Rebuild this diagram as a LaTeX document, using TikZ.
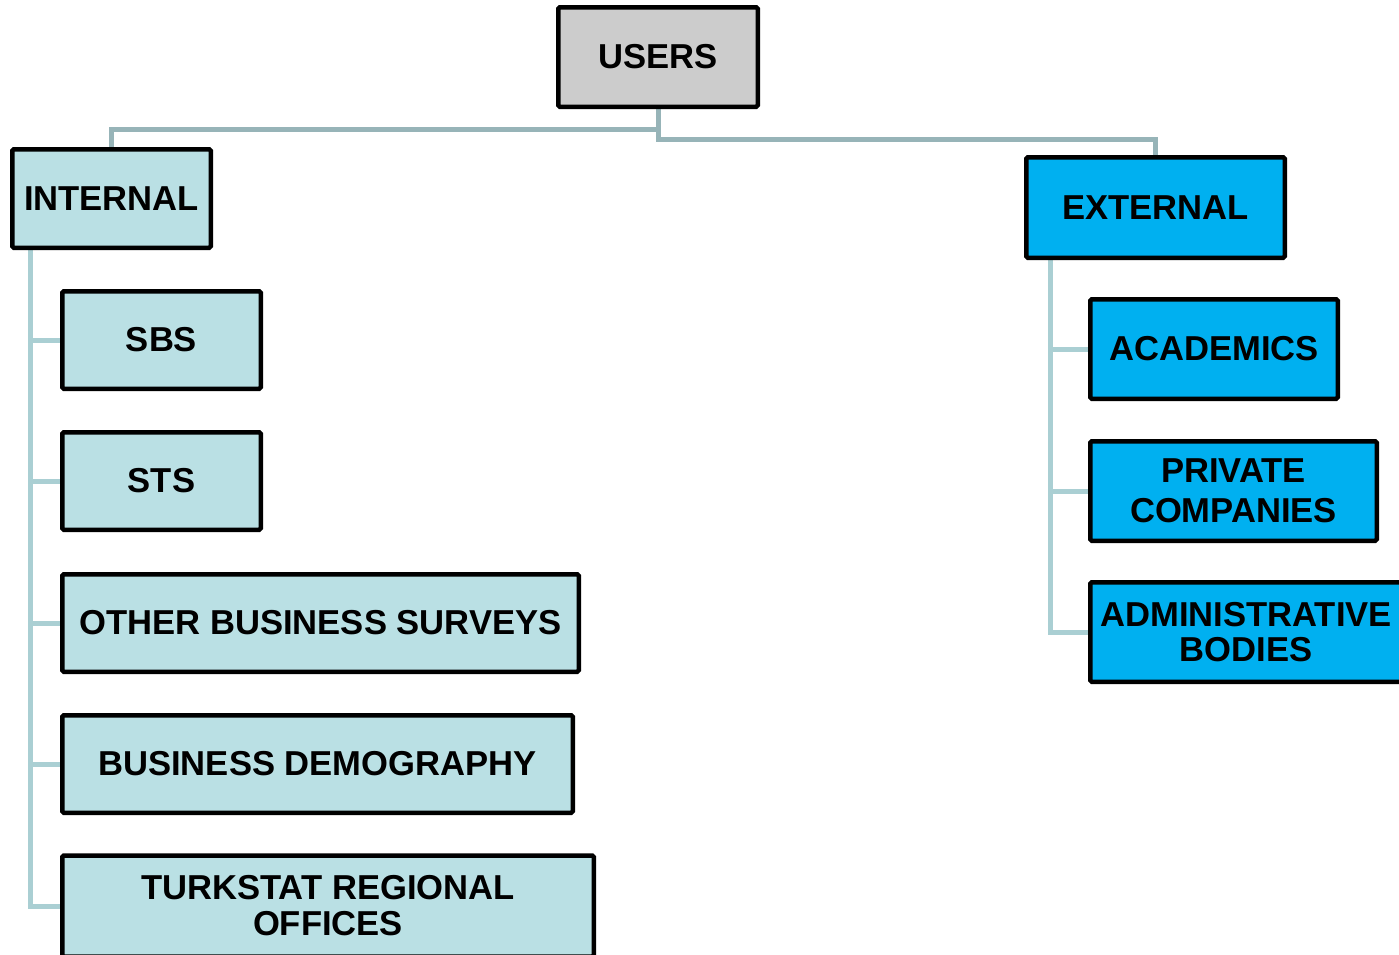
\documentclass[tikz,border=0pt]{standalone}
\usepackage{fontspec}
\setmainfont{Liberation Sans}
\usetikzlibrary{backgrounds,calc}
\definecolor{uppercol}{RGB}{151,180,184}
\definecolor{lowercol}{RGB}{170,207,211}
\definecolor{intfill}{RGB}{186,224,228}
\definecolor{extfill}{RGB}{0,176,240}
\definecolor{usrfill}{RGB}{204,204,204}
\tikzset{
  box/.style={draw=black, line width=4.5pt, rounded corners=1.5pt, align=center,
    font=\fontsize{34.6}{35}\selectfont\bfseries, inner sep=0pt, minimum height=97.5pt},
  intbox/.style={box, fill=intfill},
  extbox/.style={box, fill=extfill},
  usrbox/.style={box, fill=usrfill},
  upconn/.style={draw=uppercol, line width=5pt},
  lowconn/.style={draw=lowercol, line width=5pt},
}
\begin{document}
\begin{tikzpicture}[x=1pt,y=-1pt]
\useasboundingbox (0,0) rectangle (1399,954);
\node[usrbox, minimum width=199.5pt, minimum height=99.5pt] (users) at (658,57) {USERS};
\node[intbox, minimum width=198.5pt, minimum height=98.5pt] (internal) at (111.5,198.5) {INTERNAL};
\node[intbox, minimum width=198.5pt] (sbs) at (161.5,340) {SBS};
\node[intbox, minimum width=198.5pt] (sts) at (161.5,481) {STS};
\node[intbox, minimum width=516.5pt] (obs) at (320.5,623) {OTHER BUSINESS SURVEYS};
\node[intbox, minimum width=510.5pt] (bd) at (317.5,764) {BUSINESS DEMOGRAPHY};
\node[intbox, minimum width=531.5pt, minimum height=101pt, font=\fontsize{34.6}{36}\selectfont\bfseries] (turk) at (328,906) {TURKSTAT REGIONAL\\OFFICES};
\node[extbox, minimum width=258.5pt, minimum height=100.5pt] (external) at (1155.5,207.5) {EXTERNAL};
\node[extbox, minimum width=247.5pt, minimum height=99.5pt] (acad) at (1214,349) {ACADEMICS};
\node[extbox, minimum width=286.5pt, minimum height=99.5pt, font=\fontsize{34.6}{40}\selectfont\bfseries] (priv) at (1233.5,491) {PRIVATE\\COMPANIES};
\node[extbox, minimum width=311.5pt, minimum height=99.5pt, font=\fontsize{34.6}{35.5}\selectfont\bfseries] (admin) at (1246,632) {ADMINISTRATIVE\\BODIES};
\begin{scope}[on background layer]
\draw[upconn] (users.south) -- ++(0,20.5) -| (internal.north);
\draw[upconn] (users.south) -- ++(0,30.5) -| (external.north);
\coordinate (ia) at ($(internal.south west)+(20,0)$);
\draw[lowconn] (ia) |- (sbs.west);
\draw[lowconn] (ia) |- (sts.west);
\draw[lowconn] (ia) |- (obs.west);
\draw[lowconn] (ia) |- (bd.west);
\draw[lowconn] (ia) |- (turk.west);
\coordinate (ea) at ($(external.south west)+(26.5,0)$);
\draw[lowconn] (ea) |- (acad.west);
\draw[lowconn] (ea) |- (priv.west);
\draw[lowconn] (ea) |- (admin.west);
\end{scope}
\end{tikzpicture}
\end{document}
